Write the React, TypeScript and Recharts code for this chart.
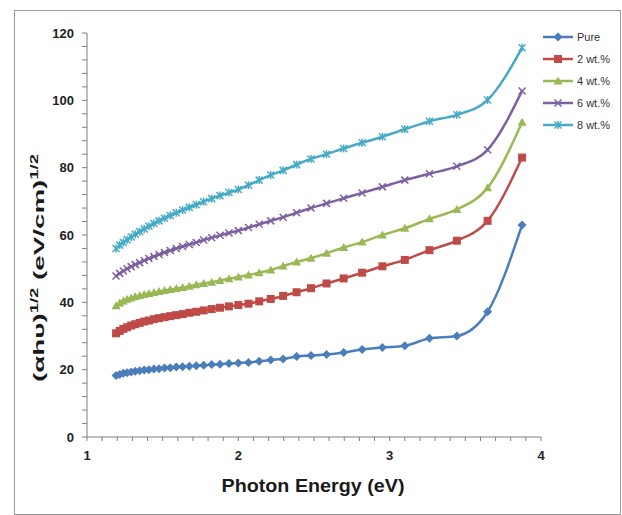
import React from 'react';
import { LineChart, Line, XAxis, YAxis } from 'recharts';

// photon energy (eV) of each measured point
const energy = [
  1.192, 1.216, 1.24, 1.265, 1.292, 1.319, 1.348, 1.378, 1.409, 1.442, 1.476, 1.512,
  1.55, 1.59, 1.632, 1.676, 1.722, 1.771, 1.824, 1.879, 1.938, 2.0, 2.067, 2.138,
  2.214, 2.296, 2.385, 2.48, 2.583, 2.696, 2.818, 2.952, 3.1, 3.263, 3.444, 3.647, 3.875,
];

// (ahv)^1/2 for each sample
const pure = [
  18.3, 18.6, 18.9, 19.1, 19.3, 19.5, 19.7, 19.9, 20.0, 20.2, 20.3, 20.5,
  20.6, 20.8, 20.9, 21.0, 21.2, 21.3, 21.5, 21.6, 21.8, 22.0, 22.1, 22.5,
  22.9, 23.2, 23.9, 24.2, 24.5, 25.1, 26.0, 26.6, 27.1, 29.3, 30.0, 37.2, 63.0,
];
const wt2 = [
  30.8, 31.5, 32.1, 32.6, 33.1, 33.5, 33.9, 34.3, 34.6, 35.0, 35.3, 35.6,
  35.9, 36.2, 36.5, 36.9, 37.2, 37.6, 38.0, 38.4, 38.8, 39.2, 39.6, 40.3,
  41.0, 41.9, 43.0, 44.2, 45.6, 47.1, 48.8, 50.7, 52.6, 55.5, 58.3, 64.2, 83.0,
];
const wt4 = [
  39.0, 39.8, 40.4, 40.9, 41.3, 41.7, 42.0, 42.3, 42.6, 42.9, 43.2, 43.5,
  43.8, 44.1, 44.4, 44.8, 45.2, 45.6, 46.0, 46.5, 47.0, 47.5, 48.1, 48.8,
  49.6, 50.8, 52.0, 53.1, 54.6, 56.3, 57.9, 60.0, 62.0, 64.8, 67.6, 74.0, 93.5,
];
const wt6 = [
  47.8, 48.6, 49.3, 50.0, 50.6, 51.2, 51.8, 52.4, 53.0, 53.6, 54.2, 54.8,
  55.4, 56.0, 56.6, 57.2, 57.8, 58.5, 59.2, 59.9, 60.6, 61.3, 62.2, 63.2,
  64.2, 65.3, 66.6, 68.0, 69.4, 70.9, 72.5, 74.3, 76.3, 78.2, 80.4, 85.3, 102.8,
];
const wt8 = [
  56.0, 57.0, 57.8, 58.6, 59.4, 60.2, 61.0, 61.8, 62.6, 63.4, 64.2, 65.0,
  65.8, 66.6, 67.4, 68.2, 69.0, 69.9, 70.8, 71.7, 72.6, 73.5, 74.8, 76.3,
  77.8, 79.2, 80.9, 82.6, 84.0, 85.7, 87.4, 89.2, 91.4, 93.8, 95.7, 100.1, 115.6,
];

const xLabels = [1, 2, 3, 4];
const yLabels = [0, 20, 40, 60, 80, 100, 120];

// minor ticks: 10 per unit on x, 5 per step on y
const xTicks = Array.from({ length: 31 }, (_, i) => Math.round((1 + i * 0.1) * 10) / 10);
const yTicks = Array.from({ length: 31 }, (_, i) => i * 4);

const data = energy.map((e, i) => ({
  e,
  pure: pure[i],
  wt2: wt2[i],
  wt4: wt4[i],
  wt6: wt6[i],
  wt8: wt8[i],
}));

type Shape = 'diamond' | 'square' | 'triangle' | 'cross' | 'star';

const series: { key: string; name: string; color: string; shape: Shape }[] = [
  { key: 'pure', name: 'Pure', color: '#4a7ebb', shape: 'diamond' },
  { key: 'wt2', name: '2 wt.%', color: '#be4b48', shape: 'square' },
  { key: 'wt4', name: '4 wt.%', color: '#98b954', shape: 'triangle' },
  { key: 'wt6', name: '6 wt.%', color: '#7d60a0', shape: 'cross' },
  { key: 'wt8', name: '8 wt.%', color: '#46aac5', shape: 'star' },
];

const FONT = '"Liberation Sans", Arial, sans-serif';
const AXIS = '#7f7f7f';

function Marker({ shape, cx, cy, color }: { shape: Shape; cx: number; cy: number; color: string }) {
  const r = 4.5;
  if (shape === 'diamond') {
    return <polygon points={`${cx},${cy - r} ${cx + r},${cy} ${cx},${cy + r} ${cx - r},${cy}`} fill={color} />;
  }
  if (shape === 'square') {
    return <rect x={cx - 4} y={cy - 4} width={8} height={8} fill={color} />;
  }
  if (shape === 'triangle') {
    return <polygon points={`${cx},${cy - r} ${cx + r},${cy + 3.5} ${cx - r},${cy + 3.5}`} fill={color} />;
  }
  return (
    <g stroke={color} strokeWidth={1.5}>
      <line x1={cx - 3.5} y1={cy - 3.5} x2={cx + 3.5} y2={cy + 3.5} />
      <line x1={cx - 3.5} y1={cy + 3.5} x2={cx + 3.5} y2={cy - 3.5} />
      {shape === 'star' && <line x1={cx} y1={cy - 4} x2={cx} y2={cy + 4} />}
    </g>
  );
}

function XTick(props: any) {
  const { x, y, payload } = props;
  if (!xLabels.includes(payload.value)) return <g />;
  return (
    <text x={x} y={y + 17} textAnchor="middle" fill="#222" fontSize={13} fontWeight="bold" fontFamily={FONT}>
      {payload.value}
    </text>
  );
}

function YTick(props: any) {
  const { x, y, payload } = props;
  if (!yLabels.includes(payload.value)) return <g />;
  return (
    <text x={x - 6} y={y + 4.5} textAnchor="end" fill="#222" fontSize={13} fontWeight="bold" fontFamily={FONT}>
      {payload.value}
    </text>
  );
}

function YTitle() {
  return (
    <text
      x={0}
      y={0}
      transform="translate(44,268) rotate(-90)"
      textAnchor="middle"
      fill="#1a1a1a"
      fontSize={15}
      fontWeight="bold"
      fontFamily={FONT}
      textLength={228}
      lengthAdjust="spacingAndGlyphs"
    >
      (αhυ)
      <tspan fontSize={10} dy={-6}>1/2</tspan>
      <tspan dy={6}> (eV/cm)</tspan>
      <tspan fontSize={10} dy={-6}>1/2</tspan>
    </text>
  );
}

function XTitle() {
  return (
    <text
      x={313}
      y={492}
      textAnchor="middle"
      fill="#1a1a1a"
      fontSize={19}
      fontWeight="bold"
      fontFamily={FONT}
      textLength={183}
      lengthAdjust="spacingAndGlyphs"
    >
      Photon Energy (eV)
    </text>
  );
}

export default function App() {
  return (
    <div style={{ position: 'absolute', left: 0, top: 0, width: 622, height: 515, background: '#fff' }}>
      <LineChart width={622} height={515} data={data} margin={{ top: 33, right: 81, bottom: 48, left: 27 }}>
        <XAxis
          type="number"
          dataKey="e"
          domain={[1, 4]}
          ticks={xTicks}
          interval={0}
          height={30}
          stroke={AXIS}
          tickSize={4}
          tick={<XTick />}
          label={<XTitle />}
        />
        <YAxis
          type="number"
          domain={[0, 120]}
          ticks={yTicks}
          interval={0}
          width={60}
          stroke={AXIS}
          tickSize={5}
          tick={<YTick />}
          label={<YTitle />}
        />
        {series.map((s) => (
          <Line
            key={s.key}
            type="monotone"
            dataKey={s.key}
            name={s.name}
            stroke={s.color}
            strokeWidth={2.5}
            isAnimationActive={false}
            dot={(p: any) => <Marker key={`${s.key}-${p.index}`} shape={s.shape} cx={p.cx} cy={p.cy} color={s.color} />}
            activeDot={false}
          />
        ))}
      </LineChart>

      {/* chart frame */}
      <div
        style={{
          position: 'absolute',
          left: 14,
          top: 10,
          width: 605,
          height: 503,
          border: '1px solid #9a9a9a',
          pointerEvents: 'none',
        }}
      />

      {/* legend */}
      <div style={{ position: 'absolute', left: 542, top: 26, fontFamily: FONT, fontSize: 11, color: '#333' }}>
        {series.map((s) => (
          <div key={s.key} style={{ display: 'flex', alignItems: 'center', height: 22 }}>
            <svg width={32} height={10} style={{ display: 'block' }}>
              <line x1={1} y1={5} x2={31} y2={5} stroke={s.color} strokeWidth={2.5} />
              <Marker shape={s.shape} cx={16} cy={5} color={s.color} />
            </svg>
            <span style={{ marginLeft: 3 }}>{s.name}</span>
          </div>
        ))}
      </div>
    </div>
  );
}
